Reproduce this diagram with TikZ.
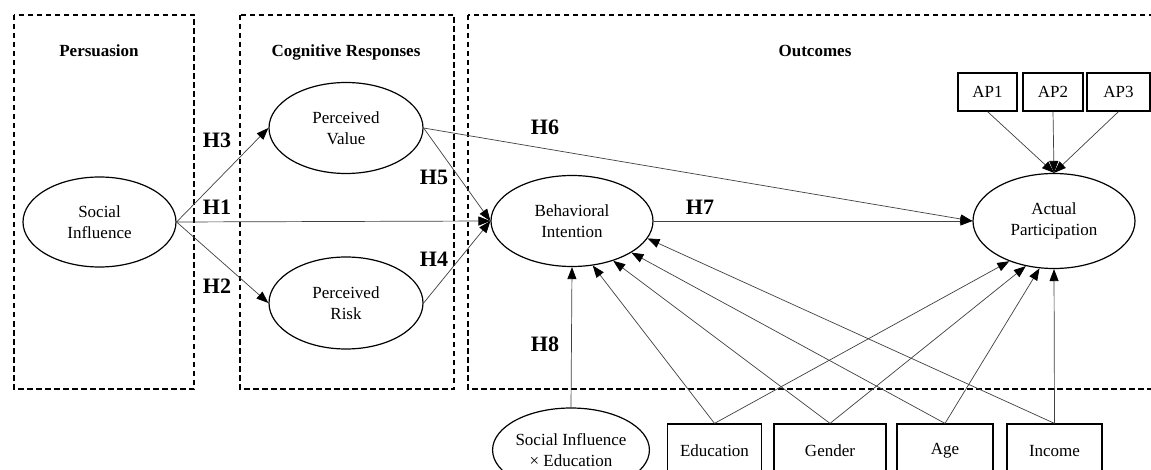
\documentclass[tikz,border=0pt]{standalone}
\usepackage{fontspec}
\setmainfont{Liberation Serif}
\usetikzlibrary{shapes.geometric,arrows.meta}
\begin{document}
\begin{tikzpicture}[x=1pt,y=-1pt,
  lat/.style={ellipse,draw,line width=1.2pt,inner sep=0pt,align=center,font=\fontsize{17}{20.5}\selectfont},
  obs/.style={rectangle,draw,line width=1.2pt,inner sep=0pt,align=center,font=\fontsize{17}{20.5}\selectfont},
  grp/.style={draw,line width=1.1pt,dash pattern=on 5.5pt off 3.5pt},
  hyp/.style={font=\bfseries\fontsize{22}{26}\selectfont,anchor=base,inner sep=0pt},
  ttl/.style={font=\bfseries\fontsize{17}{20}\selectfont,anchor=base,inner sep=0pt},
  con/.style={draw=black!75,line width=0.7pt,-{Triangle[length=12pt,width=9pt,color=black]}}
]
\clip (0,0) rectangle (1151,470);
\fill[white] (0,0) rectangle (1151,470);
% group boxes
\draw[grp] (14,15) rectangle (194,389);
\draw[grp] (240,15) rectangle (454,389);
\draw[grp] (468,15) rectangle (1175,389);
% titles
\node[ttl] (t1) at (99,57) {Persuasion};
\node[ttl] (t2) at (346,57) {Cognitive Responses};
\node[ttl] (t3) at (815,57) {Outcomes};
% latent variables
\node[lat,minimum width=153pt,minimum height=90pt] (si) at (99.5,222) {Social\\Influence};
\node[lat,minimum width=154pt,minimum height=91pt] (pv) at (346,128) {Perceived\\Value};
\node[lat,minimum width=154pt,minimum height=92pt] (pr) at (346,303) {Perceived\\Risk};
\node[lat,minimum width=162pt,minimum height=91pt] (bi) at (572,221) {Behavioral\\Intention};
\node[lat,minimum width=162pt,minimum height=95pt] (ap) at (1054,221) {Actual\\Participation};
\node[lat,minimum width=156pt,minimum height=84pt] (six) at (571,450) {Social Influence\\\texttimes{} Education};
% observed
\node[obs,minimum width=59pt,minimum height=38pt] (ap1) at (987.5,92) {AP1};
\node[obs,minimum width=60pt,minimum height=38pt] (ap2) at (1053,92) {AP2};
\node[obs,minimum width=63pt,minimum height=38pt] (ap3) at (1118.5,92) {AP3};
\node[obs,minimum width=94pt,minimum height=54pt] (edu) at (714.5,451) {Education};
\node[obs,minimum width=112pt,minimum height=54pt] (gen) at (830,451) {Gender};
\node[obs,minimum width=96pt,minimum height=54pt] (age) at (945,451) {Age};
\node[obs,minimum width=95pt,minimum height=54pt] (inc) at (1054.5,451) {Income};
% structural paths
\draw[con] (si.east) -- (pv.west);
\draw[con] (si.east) -- (pr.west);
\draw[con] (si.east) -- (bi.west);
\draw[con] (pv.east) -- (bi.west);
\draw[con] (pr.east) -- (bi.west);
\draw[con] (pv.east) -- (ap.west);
\draw[con] (bi.east) -- (ap.west);
\draw[con] (six.north) -- (bi.south);
% indicators
\draw[con] (ap1.south) -- (ap.north);
\draw[con] (ap2.south) -- (ap.north);
\draw[con] (ap3.south) -- (ap.north);
% controls
\draw[con] (edu.north) -- (bi.295);
\draw[con] (gen.north) -- (bi.316);
\draw[con] (age.north) -- (bi.332);
\draw[con] (inc.north) -- (bi.347);
\draw[con] (edu.north) -- (ap.222);
\draw[con] (gen.north) -- (ap.238);
\draw[con] (age.north) -- (ap.253);
\draw[con] (inc.north) -- (ap.south);
% hypothesis labels
\node[hyp] (h3) at (217,148) {H3};
\node[hyp] (h1) at (217,215) {H1};
\node[hyp] (h2) at (217,294) {H2};
\node[hyp] (h5) at (434,185) {H5};
\node[hyp] (h4) at (434,267) {H4};
\node[hyp] (h6) at (545,135) {H6};
\node[hyp] (h7) at (700,215) {H7};
\node[hyp] (h8) at (545,351) {H8};
\end{tikzpicture}
\end{document}
